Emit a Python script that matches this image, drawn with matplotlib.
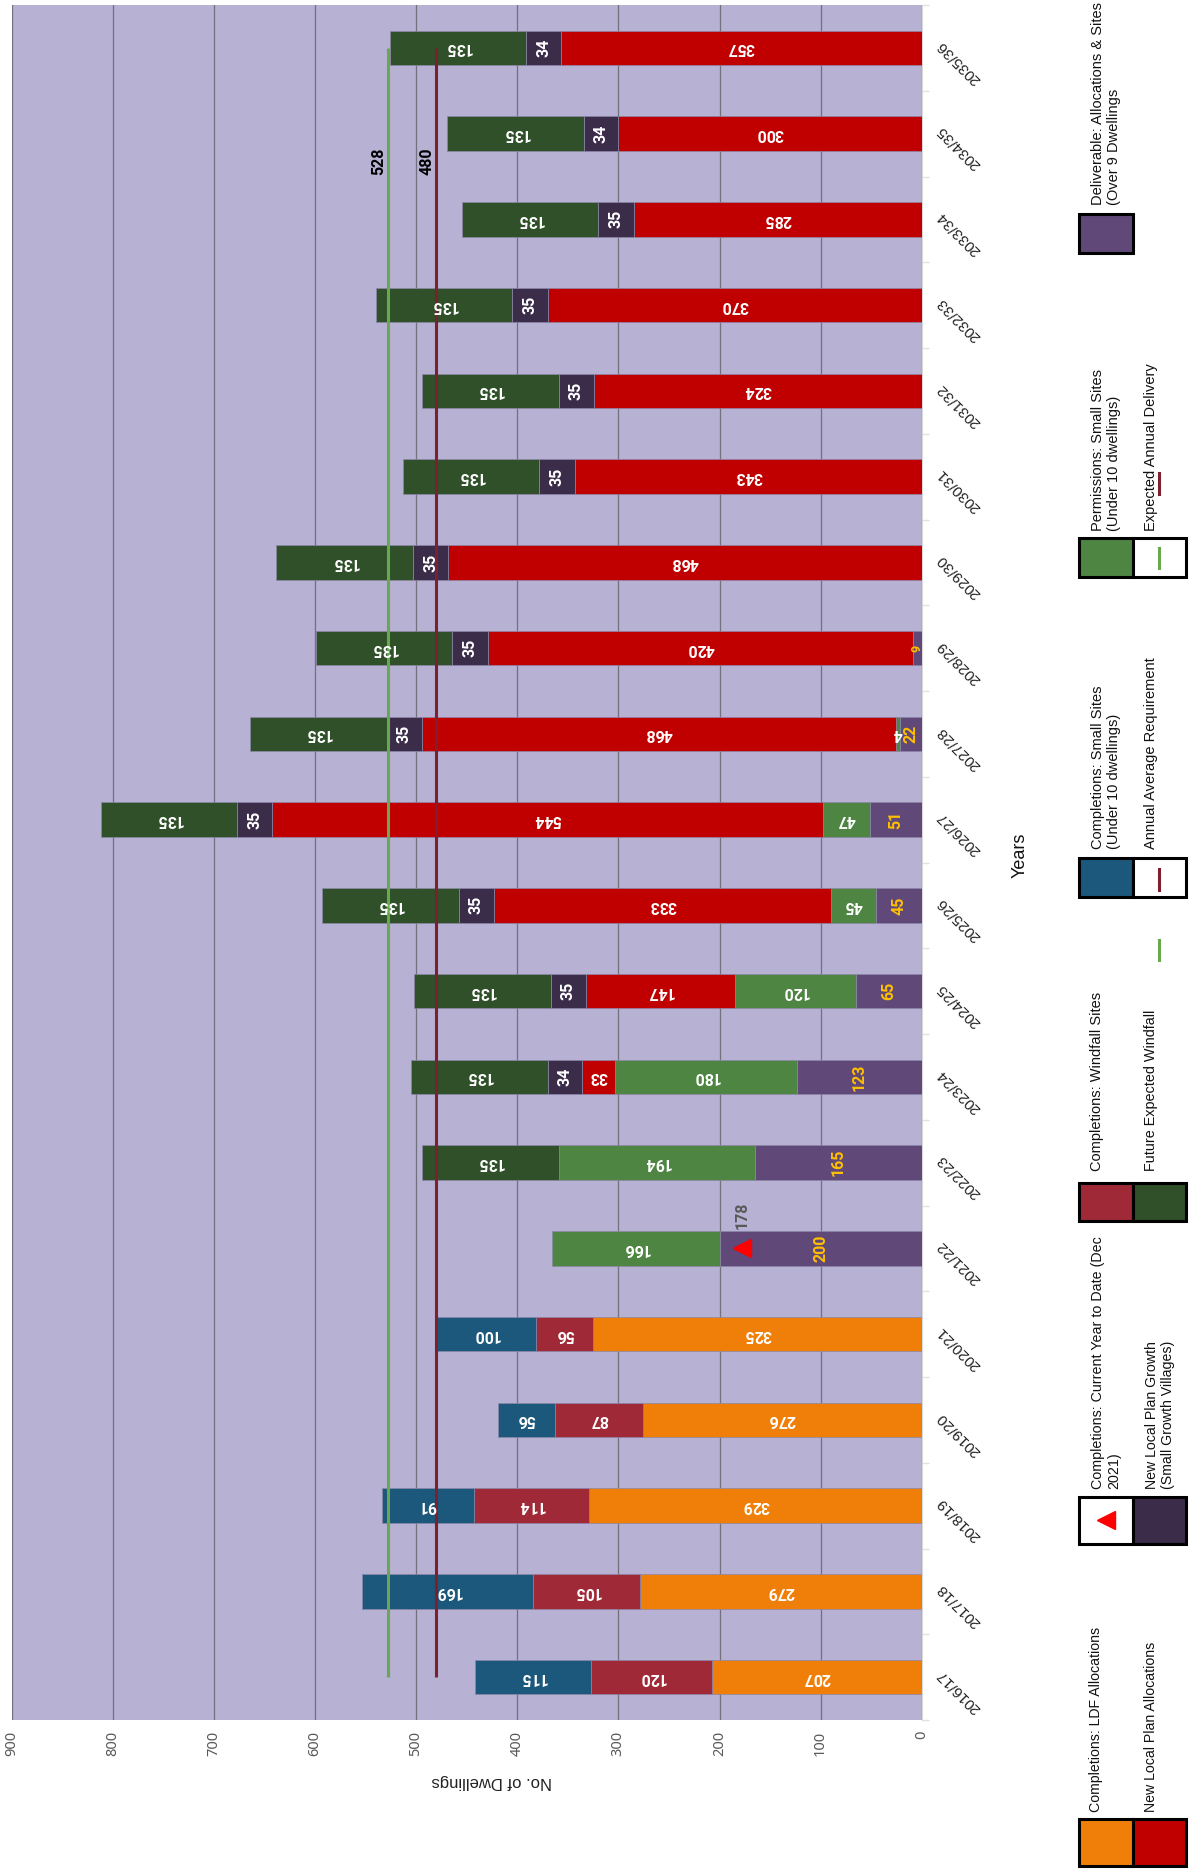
import numpy as np
import matplotlib
matplotlib.use('Agg')
import matplotlib.pyplot as plt
from matplotlib.patches import Rectangle
from matplotlib.transforms import ScaledTranslation

years = ['2016/17', '2017/18', '2018/19', '2019/20', '2020/21', '2021/22', '2022/23',
         '2023/24', '2024/25', '2025/26', '2026/27', '2027/28', '2028/29', '2029/30',
         '2030/31', '2031/32', '2032/33', '2033/34', '2034/35', '2035/36']

ldf = [207, 279, 329, 276, 325, 0, 0, 0, 0, 0, 0, 0, 0, 0, 0, 0, 0, 0, 0, 0]
windfall = [120, 105, 114, 87, 56, 0, 0, 0, 0, 0, 0, 0, 0, 0, 0, 0, 0, 0, 0, 0]
small_sites = [115, 169, 91, 56, 100, 0, 0, 0, 0, 0, 0, 0, 0, 0, 0, 0, 0, 0, 0, 0]
deliverable = [0, 0, 0, 0, 0, 200, 165, 123, 65, 45, 51, 22, 9, 0, 0, 0, 0, 0, 0, 0]
permissions = [0, 0, 0, 0, 0, 166, 194, 180, 120, 45, 47, 4, 0, 0, 0, 0, 0, 0, 0, 0]
local_plan = [0, 0, 0, 0, 0, 0, 0, 33, 147, 333, 544, 468, 420, 468, 343, 324, 370, 285, 300, 357]
growth = [0, 0, 0, 0, 0, 0, 0, 34, 35, 35, 35, 35, 35, 35, 35, 35, 35, 35, 34, 34]
future = [0, 0, 0, 0, 0, 0, 135, 135, 135, 135, 135, 135, 135, 135, 135, 135, 135, 135, 135, 135]

annual_requirement = 480
expected_delivery = 528
current_year = 178
current_year_idx = 5

ORANGE = '#f07f09'
WINDFALL = '#9f2936'
BLUE = '#1b587c'
PURPLE = '#604878'
GREEN = '#4e8542'
RED = '#c00000'
DARKPURPLE = '#3b2c4a'
DARKGREEN = '#2f5028'
LINE_RED = '#7f1f2e'
LINE_GREEN = '#6aa84f'
YELLOW = '#ffc000'
LABEL_FONT = 'Roboto'

W, H = 1195, 1872
fig = plt.figure(figsize=(W / 100, H / 100), dpi=100)
left, right, top, bottom = 11.5, 921.8, 5, 1720
ax = fig.add_axes([left / W, 1 - bottom / H, (right - left) / W, (bottom - top) / H])
ax.set_facecolor('#b7b1d3')

series = [(ldf, ORANGE, 'white', 180), (windfall, WINDFALL, 'white', 180), (small_sites, BLUE, 'white', 180),
          (deliverable, PURPLE, YELLOW, 90), (permissions, GREEN, 'white', 180), (local_plan, RED, 'white', 180),
          (growth, DARKPURPLE, 'white', 90), (future, DARKGREEN, 'white', 180)]

y = np.arange(len(years))
base = np.zeros(len(years))
for vals, col, tcol, rot in series:
    vals = np.array(vals)
    keep = vals > 0
    # empty segments would leave a thin edge line, so only draw the real ones
    ax.barh(y[keep], vals[keep], left=base[keep], height=0.4, color=col, edgecolor='#8c86a8',
            linewidth=0.5, zorder=3)
    for i in y[keep]:
        v = vals[i]
        fs = 9 if v == 9 else 11.5
        ax.text(base[i] + v / 2, i, str(v), color=tcol, rotation=rot, ha='center', va='center',
                fontsize=fs, fontweight='bold', family=LABEL_FONT, zorder=6)
    base = base + vals

ax.plot([annual_requirement] * len(years), y, color=LINE_RED, lw=2.2, zorder=5, solid_capstyle='butt')
ax.plot([expected_delivery] * len(years), y, color=LINE_GREEN, lw=2.2, zorder=5, solid_capstyle='butt')
ax.annotate('480', (annual_requirement, 17.68), xytext=(-1, 0), textcoords='offset points', rotation=90,
            ha='right', va='center', fontsize=11.5, fontweight='bold', family=LABEL_FONT, color='black', zorder=6)
ax.annotate('528', (expected_delivery, 17.68), xytext=(-1, 0), textcoords='offset points', rotation=90,
            ha='right', va='center', fontsize=11.5, fontweight='bold', family=LABEL_FONT, color='black', zorder=6)

ax.plot([current_year], [current_year_idx], marker='<', color='#ff0000', ms=12.5, ls='none', zorder=6)
ax.annotate(str(current_year), (current_year, current_year_idx), xytext=(0, 24), textcoords='offset points',
            rotation=90, ha='center', va='center', fontsize=11.5, fontweight='bold', family=LABEL_FONT,
            color='#595959', zorder=6)

ax.set_xlim(900, 0)
ax.set_ylim(-0.5, len(years) - 0.5)
ax.set_xticks(np.arange(0, 1000, 100))
ax.grid(axis='x', color='#74717f', lw=0.9, zorder=1)
ax.set_axisbelow(True)
for s in ['top', 'bottom', 'left']:
    ax.spines[s].set_visible(False)
ax.spines['right'].set_color('#d9d9d9')
ax.tick_params(axis='x', length=0, pad=8)
for lab in ax.get_xticklabels():
    lab.set_rotation(90)
    lab.set_fontsize(10.5)
    lab.set_color('#595959')
    lab.set_family('Noto Sans')
    lab.set_va('top')

ax.yaxis.tick_right()
ax.set_yticks(y)
ax.set_yticklabels(years, rotation=135, ha='center', va='center', fontsize=11,
                   family='Liberation Sans', color='#222222', rotation_mode='anchor')
ax.set_yticks(np.arange(-0.5, len(years)), minor=True)
ax.tick_params(axis='y', which='major', length=0, pad=0)
ax.tick_params(axis='y', which='minor', length=5, color='#e2e2e2', width=1)
shift = ScaledTranslation(37 / 100, -14 / 100, fig.dpi_scale_trans)
for lab in ax.get_yticklabels():
    lab.set_transform(lab.get_transform() + shift)

# overlay in pixel coords for the rotated legend and axis titles
ov = fig.add_axes([0, 0, 1, 1])
ov.set_xlim(0, W)
ov.set_ylim(H, 0)
ov.axis('off')
ov.patch.set_alpha(0)

ov.text(492, 1782, 'No. of Dwellings', rotation=180, ha='center', va='center', fontsize=12,
        family='Liberation Sans', color='#222222')
ov.text(1020, 855, 'Years', rotation=90, ha='center', va='center', fontsize=13,
        family='Liberation Sans', color='#111111')

c0, c1, c2 = 1079, 1133, 1186
swatches = [(1819, 1866, ORANGE, RED), (1497, 1544, 'white', DARKPURPLE), (1183, 1221, WINDFALL, DARKGREEN),
            (858, 897, BLUE, 'white'), (538, 577, GREEN, 'white'), (214, 253, PURPLE, None)]
for y0, y1, a, b in swatches:
    ov.add_patch(Rectangle((c0, y0), c1 - c0, y1 - y0, fc=a, ec='black', lw=2.2))
    if b is not None:
        ov.add_patch(Rectangle((c1, y0), c2 - c1, y1 - y0, fc=b, ec='black', lw=2.2))

ov.plot([1106], [1520], marker='<', color='#ff0000', ms=13, ls='none')
ov.plot([1159, 1159], [869, 890], color=LINE_RED, lw=2.2)
ov.plot([1159, 1159], [548, 568], color=LINE_GREEN, lw=2.2)
ov.plot([1159, 1159], [940, 960], color=LINE_GREEN, lw=2.2)
ov.plot([1159, 1159], [473, 494], color=LINE_RED, lw=2.2)

legend_text = [(1096, 1812, 'Completions: LDF Allocations', 10.2), (1151, 1812, 'New Local Plan Allocations', 10.2),
               (1106, 1489, 'Completions: Current Year to Date (Dec\n2021)', 10.3),
               (1160, 1489, 'New Local Plan Growth\n(Small Growth Villages)', 10.2),
               (1097, 1171, 'Completions: Windfall Sites', 10.5), (1151, 1171, 'Future Expected Windfall', 10.4),
               (1106, 849, 'Completions: Small Sites\n(Under 10 dwellings)', 10.5),
               (1151, 849, 'Annual Average Requirement', 10.5),
               (1106, 531, 'Permissions: Small Sites\n(Under 10 dwellings)', 10.5),
               (1151, 531, 'Expected Annual Delivery', 10.5),
               (1106, 205, 'Deliverable: Allocations & Sites\n(Over 9 Dwellings', 10.5)]
for tx, ty, s, fs in legend_text:
    ov.text(tx, ty, s, rotation=90, ha='center', va='bottom', fontsize=fs, family='Liberation Sans',
            color='#111111', linespacing=1.15, multialignment='left')

fig.savefig('out.png', dpi=100)
